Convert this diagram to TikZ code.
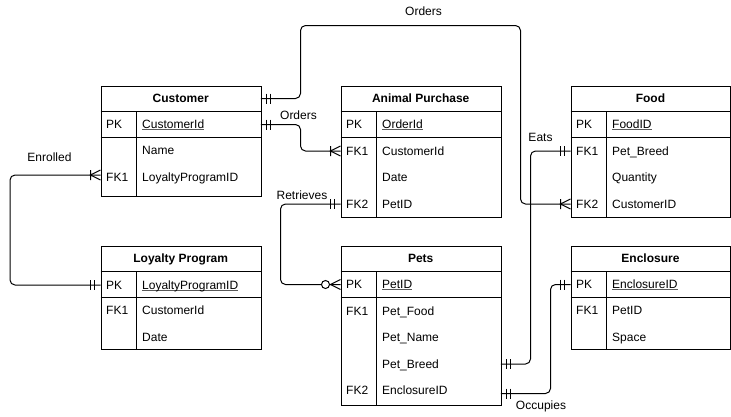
\documentclass[tikz,border=0pt]{standalone}
\usepackage{fontspec}
\setmainfont{Liberation Sans}
\tikzset{
  every node/.style={font=\fontsize{12}{14}\selectfont, inner sep=0pt, text height=8.6pt, text depth=0pt},
  tablebox/.style={draw, anchor=north west, line width=1pt},
  rowbox/.style={anchor=west, minimum height=26pt},
  hdrbox/.style={anchor=west, minimum height=26pt, font=\fontsize{12}{14}\selectfont\bfseries},
  celltxt/.style={anchor=west},
  lbl/.style={},
  conn/.style={draw, line width=1pt, rounded corners=5pt},
  tline/.style={line width=1pt},
  mandone/.pic={\draw[line width=1pt] (-6,-5) -- (-6,5) (-10,-5) -- (-10,5);},
  onemany/.pic={\draw[line width=1pt] (-10,-5) -- (-10,5) (0,-5) -- (-10,0) -- (0,5);},
  zeromany/.pic={\draw[line width=1pt] (0,-5) -- (-10,0) -- (0,5); \draw[line width=1pt, fill=white] (-15,0) circle (4);},
}
\newcommand{\pkul}[1]{\setbox0\hbox{#1}\rlap{\color{black!65}\rule[-1.3pt]{\wd0}{0.7pt}}\box0}
% name, left, width, y, key, field
\newcommand{\errow}[6]{%
  \node[rowbox, minimum width=#3pt] (#1) at (#2,#4) {};
  \node[celltxt] (#1-k) at (#2+5.5,#4) {#5};
  \node[celltxt] (#1-f) at (#2+41.5,#4) {#6};
}
% name, left, width, y, title
\newcommand{\erhead}[5]{%
  \node[hdrbox, minimum width=#3pt] (#1) at (#2,#4) {#5};
}
% left, right, headbottom, pkbottom, bottom
\newcommand{\erlines}[5]{%
  \draw[tline] (#1,#3) -- (#2,#3);
  \draw[tline] (#1,#4) -- (#2,#4);
  \draw[tline] (#1+36,#3) -- (#1+36,#5);
}
\begin{document}
\begin{tikzpicture}[x=1pt, y=-1pt]
\useasboundingbox (0,0) rectangle (731,416);

% Customer
\node[tablebox, minimum width=160pt, minimum height=110pt] (cust) at (100.5,85.5) {};
\erlines{100.5}{260.5}{111.5}{137.5}{195.5}
\erhead{cust-head}{100.5}{160}{98.5}{Customer}
\errow{cust-pk}{100.5}{160}{124.5}{PK}{\pkul{CustomerId}}
\errow{cust-name}{100.5}{160}{150.5}{}{Name}
\errow{cust-fk1}{100.5}{160}{177}{FK1}{LoyaltyProgramID}

% Animal Purchase
\node[tablebox, minimum width=160pt, minimum height=130.5pt] (ap) at (340.5,86) {};
\erlines{340.5}{500.5}{111.5}{137.5}{216.5}
\erhead{ap-head}{340.5}{160}{98.5}{Animal Purchase}
\errow{ap-pk}{340.5}{160}{124.5}{PK}{\pkul{OrderId}}
\errow{ap-fk1}{340.5}{160}{151}{FK1}{CustomerId}
\errow{ap-date}{340.5}{160}{177.5}{}{Date}
\errow{ap-fk2}{340.5}{160}{204}{FK2}{PetID}

% Food
\node[tablebox, minimum width=159.5pt, minimum height=130.5pt] (food) at (570.5,86) {};
\erlines{570.5}{730}{111.5}{137.5}{216.5}
\erhead{food-head}{570.5}{159.5}{98.5}{Food}
\errow{food-pk}{570.5}{159.5}{124.5}{PK}{\pkul{FoodID}}
\errow{food-fk1}{570.5}{159.5}{151}{FK1}{Pet\_Breed}
\errow{food-qty}{570.5}{159.5}{177.5}{}{Quantity}
\errow{food-fk2}{570.5}{159.5}{204}{FK2}{CustomerID}

% Loyalty Program
\node[tablebox, minimum width=160pt, minimum height=103.5pt] (lp) at (100.5,245.5) {};
\erlines{100.5}{260.5}{271.5}{297.5}{349}
\erhead{lp-head}{100.5}{160}{258.5}{Loyalty Program}
\errow{lp-pk}{100.5}{160}{285}{PK}{\pkul{LoyaltyProgramID}}
\errow{lp-fk1}{100.5}{160}{310.5}{FK1}{CustomerId}
\errow{lp-date}{100.5}{160}{337}{}{Date}

% Pets
\node[tablebox, minimum width=160pt, minimum height=159.5pt] (pets) at (340.5,245.5) {};
\erlines{340.5}{500.5}{271.5}{297.5}{405}
\erhead{pets-head}{340.5}{160}{258.5}{Pets}
\errow{pets-pk}{340.5}{160}{284.5}{PK}{\pkul{PetID}}
\errow{pets-fk1}{340.5}{160}{311}{FK1}{Pet\_Food}
\errow{pets-name}{340.5}{160}{337.5}{}{Pet\_Name}
\errow{pets-breed}{340.5}{160}{364}{}{Pet\_Breed}
\errow{pets-fk2}{340.5}{160}{390.5}{FK2}{EnclosureID}

% Enclosure
\node[tablebox, minimum width=159.5pt, minimum height=103.5pt] (enc) at (570.5,245.5) {};
\erlines{570.5}{730}{271.5}{297.5}{349}
\erhead{enc-head}{570.5}{159.5}{258.5}{Enclosure}
\errow{enc-pk}{570.5}{159.5}{284.5}{PK}{\pkul{EnclosureID}}
\errow{enc-fk1}{570.5}{159.5}{310.5}{FK1}{PetID}
\errow{enc-space}{570.5}{159.5}{337}{}{Space}

% Connectors
\draw[conn] (cust-head.east) -| (300.5,25.5) -| ([xshift=-50pt]food-fk2.west) -- (food-fk2.west);
\draw[conn] (cust-pk.east) -| ([xshift=-40pt]ap-fk1.west) -- (ap-fk1.west);
\draw[conn] ([yshift=2pt]cust-fk1.west) -| ([xshift=-90.5pt]lp-pk.west) -- (lp-pk.west);
\draw[conn] (ap-fk2.west) -| ([xshift=-60pt]pets-pk.west) -- (pets-pk.west);
\draw[conn] (pets-breed.east) -| ([xshift=-40pt]food-fk1.west) -- (food-fk1.west);
\draw[conn] ([yshift=-3pt]pets-fk2.east) -| ([xshift=-20pt]enc-pk.west) -- (enc-pk.west);

% Ends
\pic[xscale=-1] at (cust-head.east) {mandone};
\pic at (food-fk2.west) {onemany};
\pic[xscale=-1] at (cust-pk.east) {mandone};
\pic at (ap-fk1.west) {onemany};
\pic at ([yshift=2pt]cust-fk1.west) {onemany};
\pic at (lp-pk.west) {mandone};
\pic at (ap-fk2.west) {mandone};
\pic at (pets-pk.west) {zeromany};
\pic[xscale=-1] at (pets-breed.east) {mandone};
\pic at (food-fk1.west) {mandone};
\pic[xscale=-1] at ([yshift=-3pt]pets-fk2.east) {mandone};
\pic at (enc-pk.west) {mandone};

% Labels
\node[lbl] (lbl-orders-top) at (423.5,11) {Orders};
\node[lbl] (lbl-orders-mid) at (298.5,115.5) {Orders};
\node[lbl] (lbl-enrolled) at (49.5,157.5) {Enrolled};
\node[lbl] (lbl-retrieves) at (302,195.5) {Retrieves};
\node[lbl] (lbl-eats) at (540.5,137) {Eats};
\node[lbl] (lbl-occupies) at (541,405.5) {Occupies};
\end{tikzpicture}
\end{document}
